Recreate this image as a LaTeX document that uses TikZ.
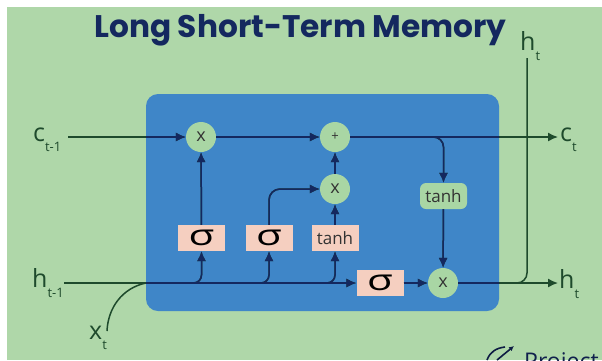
\documentclass[tikz,border=0pt]{standalone}
\usepackage{fontspec}
\setmainfont{Open Sans}
\newfontfamily\titlefont{Poppins}
\usetikzlibrary{arrows.meta}
\definecolor{bggreen}{HTML}{AFD7A9}
\definecolor{boxblue}{HTML}{3F86C8}
\definecolor{pinkbox}{HTML}{F5CFC0}
\definecolor{navy}{HTML}{14285F}
\definecolor{darkgreen}{HTML}{1E4A2C}
\definecolor{nodegreen}{HTML}{A9D6A4}
\newcommand{\lab}[2]{{\fontsize{25}{25}\selectfont #1\raisebox{-10pt}{\fontsize{13}{13}\selectfont #2}}}
\newcommand{\sig}{\scalebox{1.45}[1]{\fontsize{29}{29}\selectfont σ}}
\newcommand{\wires}{%
  \draw[wire] (ctm) -- (m1);
  \draw[wire] (m1) -- (add);
  \draw[wire] (add) -- (ct);
  \draw[wire] (s1) -- (m1);
  \draw[wire] (t1) -- (m2);
  \draw[wire] (m2) -- (add);
  \draw[wire] (htm) -- (s3);
  \draw[wire] (s3) -- (m3);
  \draw[wire] (m3) -- (ht);
  \draw[wire] (t2) -- (m3);
  \draw[wire,rounded corners=8pt] (j1) -- (s1|-htm) -- (s1);
  \draw[wire,rounded corners=8pt] (j2) -- (s2|-htm) -- (s2);
  \draw[wire,rounded corners=8pt] (j3) -- (t1|-htm) -- (t1);
  \draw[wire,rounded corners=11pt] (s2) -- (s2|-m2) -- (m2);
  \draw[wire,rounded corners=10pt] (j4) -- (t2|-add) -- (t2);
  \draw[plain,rounded corners=10pt] (j5) -- (top|-htm) -- (top);
  \draw[plain] (xt) .. controls (108,308) and (122,288) .. (j6);
}
\tikzset{
  wire/.style={plain,-{Latex[length=10pt,width=9pt]}},
  plain/.style={line width=1.5pt},
  circ/.style={circle,fill=nodegreen,minimum size=30pt,inner sep=0pt,font=\fontsize{18}{18}\selectfont,text=black!80},
  pbox/.style={fill=pinkbox,minimum width=47pt,minimum height=26pt,inner sep=0pt},
  tanhfont/.style={font=\fontsize{17}{17}\selectfont,text=black!80},
  lbl/.style={inner sep=0pt,text=darkgreen},
}
\begin{document}
\begin{tikzpicture}[x=1pt,y=-1pt]
\useasboundingbox (0,0) rectangle (602,360);
\clip (0,0) rectangle (602,360);
\fill[white] (0,0) rectangle (602,360);
\fill[bggreen] (7,7) rectangle (602,360);
\fill[boxblue,rounded corners=12pt] (146,94) rectangle (499,311);
\node[inner sep=0pt,text=navy] (title) at (300.5,30) {\titlefont\bfseries\fontsize{31.2}{31.2}\selectfont Long Short-Term Memory};

\node[circ] (m1) at (201,137) {x};
\node[circ,font=\fontsize{13}{13}\selectfont] (add) at (335,137) {+};
\node[circ] (m2) at (335,189) {x};
\node[circ] (m3) at (443,283) {x};
\node[pbox] (s1) at (201.5,238) {\sig};
\node[pbox] (s2) at (269,238) {\sig};
\node[pbox,tanhfont] (t1) at (335,238) {tanh};
\node[pbox] (s3) at (380,283) {\sig};
\node[fill=nodegreen,rounded corners=6pt,minimum width=47pt,minimum height=26pt,inner sep=0pt,tanhfont] (t2) at (443.5,196) {tanh};

\node[lbl,anchor=west] (ctmL) at (33,140) {\lab{c}{t-1}};
\node[lbl,anchor=west] (htmL) at (32,283) {\lab{h}{t-1}};
\node[lbl,anchor=west] (xtL) at (89,338) {\lab{x}{t}};
\node[lbl,anchor=west] (ctL) at (560,140) {\lab{c}{t}};
\node[lbl,anchor=west] (htL) at (559,284) {\lab{h}{t}};
\node[lbl,anchor=west] (topL) at (520,46) {\lab{h}{t}};
\node[inner sep=0pt,anchor=base west,text=navy!80!black,font=\fontsize{23}{23}\selectfont] (brand) at (524,369) {Project};

\coordinate (ctm) at (68,137);
\coordinate (htm) at (64,283);
\coordinate (ct) at (558,137);
\coordinate (ht) at (558,283);
\coordinate (top) at (527,58);
\coordinate (xt) at (107,331);
\coordinate (j1) at (190,283);
\coordinate (j2) at (258,283);
\coordinate (j3) at (324,283);
\coordinate (j4) at (425,137);
\coordinate (j5) at (510,283);
\coordinate (j6) at (146,283);

\begin{scope}
  \tikzset{every path/.append style={color=darkgreen}}
  \wires
\end{scope}
\begin{scope}
  \clip[rounded corners=12pt] (146,94) rectangle (499,311);
  \tikzset{every path/.append style={color=navy}}
  \wires
\end{scope}
\draw[line width=1.6pt,navy!70!black] (487,360) .. controls (490,352) and (496,348) .. (505,347);
\draw[line width=1.6pt,navy!70!black,-{Latex[length=5pt,width=5pt]}] (497,360) -- (514,346);
\end{tikzpicture}
\end{document}
